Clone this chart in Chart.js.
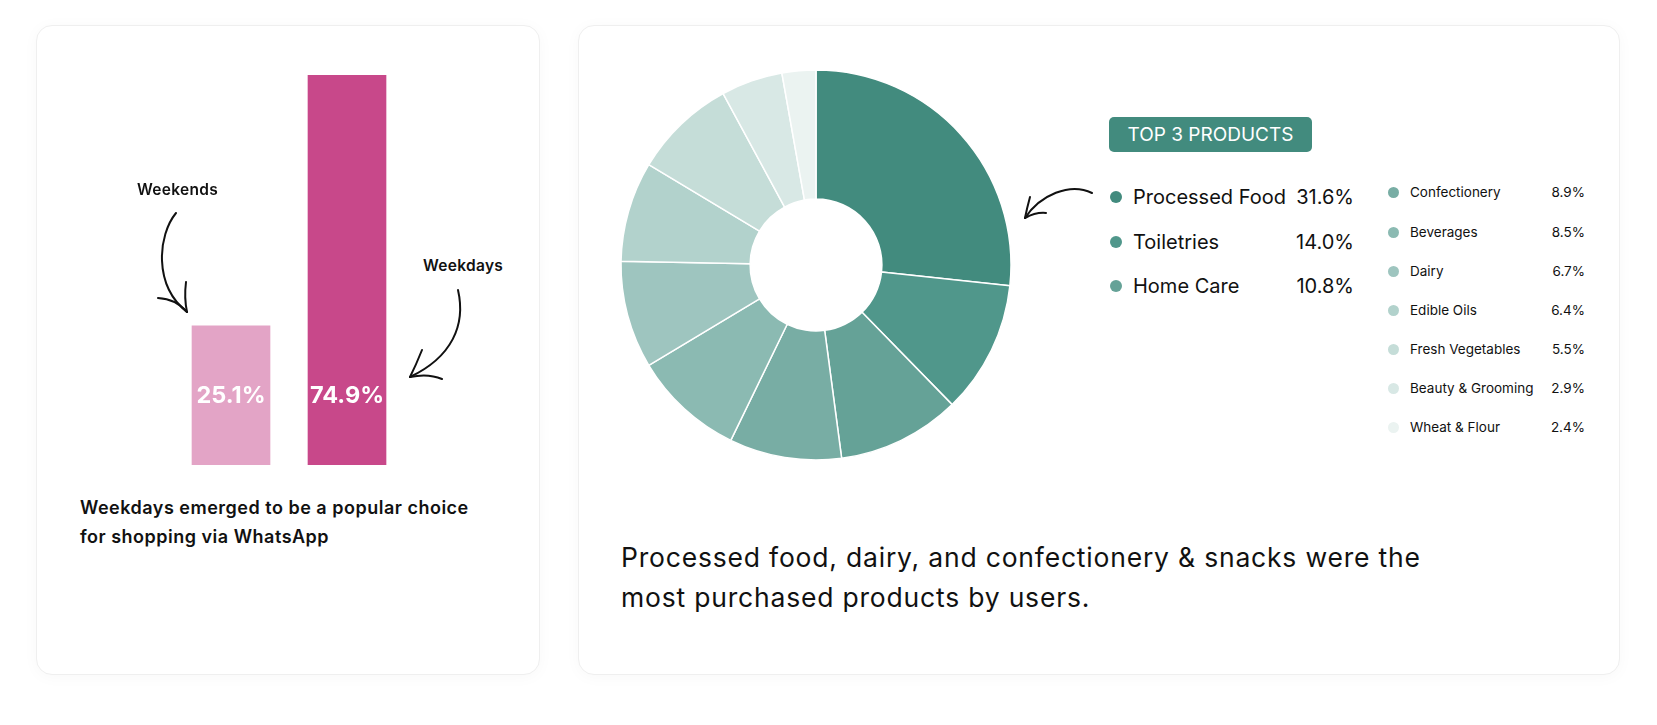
<!DOCTYPE html>
<html>
<head>
<meta charset="utf-8">
<script src="https://cdn.jsdelivr.net/npm/chart.js@4.4.0/dist/chart.umd.min.js"></script>
<style>
html,body{margin:0;padding:0;background:#fff;}
body{width:1657px;height:725px;position:relative;overflow:hidden;font-family:Inter,"Open Sans",sans-serif;color:#111;}
.card{position:absolute;background:#fff;border:1px solid #efefef;border-radius:16px;box-shadow:0 2px 16px rgba(0,0,0,0.03);box-sizing:border-box;}
.abs{position:absolute;white-space:nowrap;}
.lbl{font-weight:600;font-size:15.5px;letter-spacing:0.3px;line-height:20px;color:#111;}
.cap{font-weight:600;font-size:18px;letter-spacing:0.5px;line-height:29px;color:#111;}
.badge{background:#428B7E;color:#fff;border-radius:5px;font-size:19px;text-align:center;}
.dot{position:absolute;border-radius:50%;}
.bottom{font-size:26.5px;letter-spacing:0.8px;line-height:40px;color:#111;}
svg{position:absolute;left:0;top:0;}
</style>
</head>
<body>
<div class="card" style="left:36px;top:25px;width:504px;height:650px;"></div>
<div class="card" style="left:578px;top:25px;width:1042px;height:650px;"></div>

<canvas id="barChart" class="abs" width="232" height="390" style="left:173px;top:75px;"></canvas>
<canvas id="donutChart" class="abs" width="400" height="400" style="left:616px;top:65px;"></canvas>

<div class="abs lbl" id="lblWeekends" style="left:137px;top:180px;"></div>
<div class="abs lbl" id="lblWeekdays" style="left:423px;top:256px;"></div>
<div class="abs cap" id="caption" style="left:80px;top:493px;"></div>

<div class="abs badge" id="badge" style="left:1109px;top:117px;width:203px;height:35px;line-height:35px;"></div>
<div id="legend"></div>
<div class="abs bottom" id="bottomText" style="left:621px;top:537px;"></div>

<svg width="1657" height="725" viewBox="0 0 1657 725" fill="none" stroke="#111" stroke-width="2" stroke-linecap="round" stroke-linejoin="round">
  <path d="M176 213 C158 235 153 285 187 312"/>
  <path d="M158 298 Q176 299 187 312"/>
  <path d="M186 282 Q184 298 187 312"/>
  <path d="M458 290 C466 325 452 357 410 377"/>
  <path d="M422 350 Q416 365 410 377"/>
  <path d="M410 377 Q428 373 442 379"/>
  <path d="M1092 193 C1070 182 1040 195 1025 218"/>
  <path d="M1030 197 Q1027 208 1025 218"/>
  <path d="M1025 218 Q1036 212 1046 213"/>
</svg>

<script>
// ---- Bar chart data ----
const barCategories = ["Weekends", "Weekdays"];
const barValues = [25.1, 74.9];
const barColors = ["#E3A4C6", "#C8488A"];
const barAxisMin = -2.5;   // value axis floor
const barAxisMax = 74.9;

// ---- Donut chart data ----
const productNames = ["Processed Food", "Toiletries", "Home Care", "Confectionery", "Beverages",
  "Dairy", "Edible Oils", "Fresh Vegetables", "Beauty & Grooming", "Wheat & Flour"];
const legendPercents = ["31.6%", "14.0%", "10.8%", "8.9%", "8.5%", "6.7%", "6.4%", "5.5%", "2.9%", "2.4%"];
// arc sizes as drawn in the picture (share of the ring, %)
const sliceShares = [26.7, 11.0, 10.2, 9.3, 9.2, 8.9, 8.3, 8.5, 5.1, 2.8];
const sliceColors = ["#428B7E", "#50978B", "#65A297", "#78ADA4", "#8BBAB2",
  "#9EC5BF", "#B2D2CC", "#C5DDD8", "#D8E8E5", "#EBF3F1"];

// ---- Texts ----
const captionLines = ["Weekdays emerged to be a popular choice", "for shopping via WhatsApp"];
const badgeText = "TOP 3 PRODUCTS";
const bottomLines = ["Processed food, dairy, and confectionery & snacks were the", "most purchased products by users."];

document.getElementById('lblWeekends').textContent = barCategories[0];
document.getElementById('lblWeekdays').textContent = barCategories[1];
document.getElementById('caption').innerHTML = captionLines.join('<br>');
document.getElementById('badge').textContent = badgeText;
document.getElementById('bottomText').innerHTML = bottomLines.join('<br>');

// legend
const legend = document.getElementById('legend');
function addItem(i, dotX, dotD, textX, pctRight, cy, fs) {
  const d = document.createElement('div');
  d.className = 'dot';
  d.style.cssText = `left:${dotX - dotD/2}px;top:${cy - dotD/2}px;width:${dotD}px;height:${dotD}px;background:${sliceColors[i]};`;
  legend.appendChild(d);
  const t = document.createElement('div');
  t.className = 'abs';
  t.style.cssText = `left:${textX}px;top:${cy - fs}px;font-size:${fs}px;line-height:${2*fs}px;color:#111;`;
  t.textContent = productNames[i];
  legend.appendChild(t);
  const p = document.createElement('div');
  p.className = 'abs';
  p.style.cssText = `left:${pctRight - 120}px;width:120px;text-align:right;top:${cy - fs}px;font-size:${fs}px;line-height:${2*fs}px;color:#111;`;
  p.textContent = legendPercents[i];
  legend.appendChild(p);
}
const topRowsY = [197, 242, 286];
for (let i = 0; i < 3; i++) addItem(i, 1116, 12, 1133, 1354, topRowsY[i], 20);
const smallRowsY = [192, 232, 271, 310, 349, 388, 427];
for (let i = 3; i < 10; i++) addItem(i, 1393, 11, 1410, 1585, smallRowsY[i - 3], 13.5);

// bar value labels plugin
const barLabels = {
  id: 'barLabels',
  afterDatasetsDraw(chart) {
    const ctx = chart.ctx;
    const meta = chart.getDatasetMeta(0);
    ctx.save();
    ctx.fillStyle = '#fff';
    ctx.font = '700 23.5px Inter, "Open Sans", sans-serif';
    ctx.textAlign = 'center';
    ctx.textBaseline = 'middle';
    meta.data.forEach((bar, i) => {
      ctx.fillText(barValues[i].toFixed(1) + '%', bar.x, chart.chartArea.bottom - 69);
    });
    ctx.restore();
  }
};

new Chart(document.getElementById('barChart'), {
  type: 'bar',
  data: {
    labels: barCategories,
    datasets: [{
      data: barValues,
      backgroundColor: barColors,
      base: barAxisMin,
      barThickness: 78,
      borderWidth: 0
    }]
  },
  options: {
    responsive: false,
    animation: false,
    events: [],
    layout: { padding: 0 },
    plugins: { legend: { display: false }, tooltip: { enabled: false } },
    scales: {
      x: { display: false },
      y: { display: false, min: barAxisMin, max: barAxisMax }
    }
  },
  plugins: [barLabels]
});

new Chart(document.getElementById('donutChart'), {
  type: 'doughnut',
  data: {
    labels: productNames,
    datasets: [{
      data: sliceShares,
      backgroundColor: sliceColors,
      borderColor: '#ffffff',
      borderWidth: 1.5,
      hoverOffset: 0
    }]
  },
  options: {
    responsive: false,
    animation: false,
    events: [],
    radius: 195,
    cutout: '33.8%',
    layout: { padding: 0 },
    plugins: { legend: { display: false }, tooltip: { enabled: false } }
  }
});
</script>
</body>
</html>
